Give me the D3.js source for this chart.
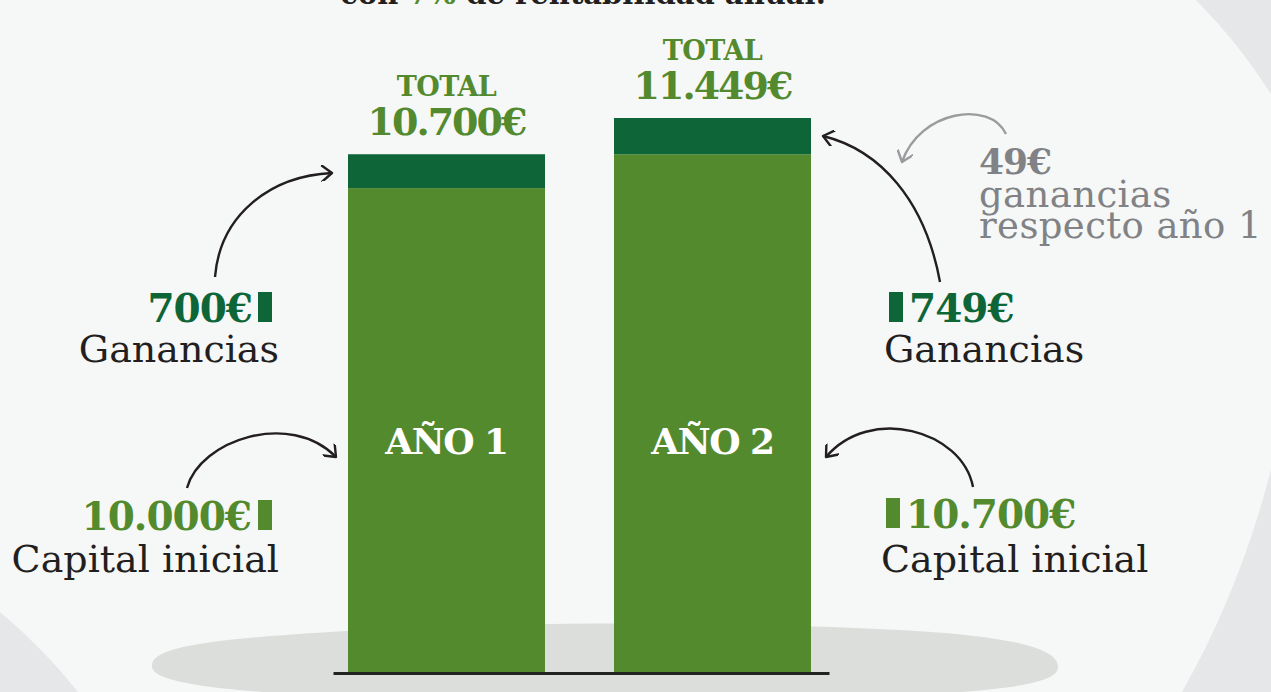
<!DOCTYPE html>
<html><head><meta charset="utf-8">
<script src="https://cdn.jsdelivr.net/npm/d3@7"></script>
<style>
html,body{margin:0;padding:0;background:#e6e7e8;}
svg{display:block;}
</style></head>
<body>
<svg id="c" width="1271" height="692"></svg>
<script>
// ---- data ----
const years = ["AÑO 1", "AÑO 2"];
const capital = [10000, 10700];
const ganancias = [700, 749];
const totals = [10700, 11449];
const subtitle = ["con ", "7%", " de rentabilidad anual."];
const labelGanancias = "Ganancias";
const labelCapital = "Capital inicial";
const labelTotal = "TOTAL";
const labelDiff = ["ganancias", "respecto año 1"];

const W = 1271, H = 692;
const LIGHT = "#548a2e", DARK = "#0e6638", INK = "#231f20", GRAY = "#818285";
const SERIF = "'DejaVu Serif', 'Liberation Serif', serif";

const loc = d3.formatLocale({decimal: ",", thousands: ".", grouping: [3], currency: ["", "€"]});
const fmt = v => loc.format(",")(v) + "€";

const svg = d3.select("#c");

// background blob
svg.append("rect").attr("width", W).attr("height", H).attr("fill", "#f6f7f7");
svg.append("path").attr("fill", "#e6e7e8")
  .attr("d", "M1196,0 Q1238,42 1271,94 L1271,0 Z");
svg.append("path").attr("fill", "#e6e7e8")
  .attr("d", "M1271,470 Q1240,590 1182,692 L1271,692 Z");
svg.append("path").attr("fill", "#e6e7e8")
  .attr("d", "M0,612 Q45,650 78,692 L0,692 Z");

// shadow ellipse
svg.append("path").attr("fill", "#dcdedc")
  .attr("d", "M152,667 C150,648 200,640 330,632 C480,622 700,620 900,630 C1010,636 1060,648 1058,668 C1056,690 950,700 600,700 C300,700 154,690 152,667 Z");

// scales
const x = d3.scaleBand().domain(years).range([348, 811]).paddingInner(69 / 266).paddingOuter(0);
const y = d3.scaleLinear().domain([0, totals[1]]).range([672, 118]);

// bars
const g = svg.append("g");
years.forEach((yr, i) => {
  g.append("rect").attr("x", x(yr)).attr("width", x.bandwidth())
    .attr("y", y(capital[i])).attr("height", y(0) - y(capital[i])).attr("fill", LIGHT);
  g.append("rect").attr("x", x(yr)).attr("width", x.bandwidth())
    .attr("y", y(capital[i] + ganancias[i])).attr("height", y(capital[i]) - y(capital[i] + ganancias[i])).attr("fill", DARK);
  const cx = x(yr) + x.bandwidth() / 2;
  const top = y(totals[i]);
  g.append("text").attr("x", cx).attr("y", top - 58).attr("text-anchor", "middle")
    .attr("font-family", SERIF).attr("font-weight", "bold").attr("font-size", 27)
    .attr("letter-spacing", -0.5).attr("fill", LIGHT).text(labelTotal);
  g.append("text").attr("x", cx).attr("y", top - 19).attr("text-anchor", "middle")
    .attr("font-family", SERIF).attr("font-weight", "bold").attr("font-size", 38)
    .attr("letter-spacing", -2).attr("fill", LIGHT).text(fmt(totals[i]));
  g.append("text").attr("x", cx).attr("y", 454).attr("text-anchor", "middle")
    .attr("font-family", SERIF).attr("font-weight", "bold").attr("font-size", 36)
    .attr("letter-spacing", -1.5).attr("fill", "#ffffff").text(yr);
});

// baseline axis
const axis = d3.axisBottom(d3.scaleLinear().range([333, 829])).ticks(0).tickSize(0);
const ax = svg.append("g").attr("transform", "translate(0,673)").call(axis);
ax.select(".domain").attr("stroke", "#222").attr("stroke-width", 3);
ax.selectAll("text").remove();

// subtitle (cut at top, as in the reference)
const st = svg.append("text").attr("x", 583).attr("y", 4).attr("text-anchor", "middle")
  .attr("font-family", SERIF).attr("font-weight", "bold").attr("font-size", 29).attr("fill", INK);
st.append("tspan").text(subtitle[0]);
st.append("tspan").attr("fill", LIGHT).text(subtitle[1]);
st.append("tspan").text(subtitle[2]);

// side labels
function valueLabel(xPos, base, anchor, text, color, markerX) {
  svg.append("text").attr("x", xPos).attr("y", base).attr("text-anchor", anchor)
    .attr("font-family", SERIF).attr("font-weight", "bold").attr("font-size", 39)
    .attr("letter-spacing", -1).attr("fill", color).text(text);
  svg.append("rect").attr("x", markerX).attr("y", base - 30).attr("width", 14).attr("height", 30).attr("fill", color);
}
function plainLabel(xPos, base, anchor, text, color, size) {
  svg.append("text").attr("x", xPos).attr("y", base).attr("text-anchor", anchor)
    .attr("font-family", SERIF).attr("font-size", size || 38).attr("fill", color || INK).text(text);
}
// left (year 1)
valueLabel(252, 322, "end", fmt(ganancias[0]), DARK, 258);
plainLabel(279, 362, "end", labelGanancias);
valueLabel(251, 530, "end", fmt(capital[0]), LIGHT, 258);
plainLabel(279, 572, "end", labelCapital);
// right (year 2)
valueLabel(909, 322, "start", fmt(ganancias[1]), DARK, 889);
plainLabel(884, 362, "start", labelGanancias);
valueLabel(906, 528, "start", fmt(capital[1]), LIGHT, 886);
plainLabel(881, 572, "start", labelCapital);

// difference note
svg.append("text").attr("x", 979).attr("y", 174).attr("font-family", SERIF).attr("font-weight", "bold")
  .attr("font-size", 36).attr("letter-spacing", -1).attr("fill", GRAY).text(fmt(ganancias[1] - ganancias[0]));
const dn = svg.append("text").attr("x", 979).attr("y", 207).attr("font-family", SERIF)
  .attr("font-size", 37).attr("letter-spacing", 0.4).attr("fill", GRAY);
dn.append("tspan").attr("x", 979).text(labelDiff[0]);
dn.append("tspan").attr("x", 979).attr("dy", 31).text(labelDiff[1]);

// arrows
const defs = svg.append("defs");
function marker(id, color) {
  defs.append("marker").attr("id", id).attr("viewBox", "-12 -8 14 16")
    .attr("refX", 0).attr("refY", 0).attr("markerWidth", 14).attr("markerHeight", 16)
    .attr("markerUnits", "userSpaceOnUse").attr("orient", "auto")
    .append("path").attr("d", "M-10,-8 L0,0 L-10,8").attr("fill", "none")
    .attr("stroke", color).attr("stroke-width", 2.4).attr("stroke-linecap", "round").attr("stroke-linejoin", "round");
}
marker("ab", "#231f20");
marker("ag", "#9a9b9d");
const arrows = [
  {d: "M215,277 C220,215 270,176 332,173", c: "#231f20", m: "ab"},
  {d: "M187,488 C200,440 290,410 336,457", c: "#231f20", m: "ab"},
  {d: "M940,282 C925,200 880,150 823,136", c: "#231f20", m: "ab"},
  {d: "M973,487 C962,430 870,405 826,457", c: "#231f20", m: "ab"},
  {d: "M1006,134 C990,100 920,110 902,162", c: "#9a9b9d", m: "ag"}
];
svg.append("g").selectAll("path").data(arrows).join("path")
  .attr("d", d => d.d).attr("fill", "none").attr("stroke", d => d.c).attr("stroke-width", 2.4)
  .attr("marker-end", d => `url(#${d.m})`);
</script>
</body></html>
